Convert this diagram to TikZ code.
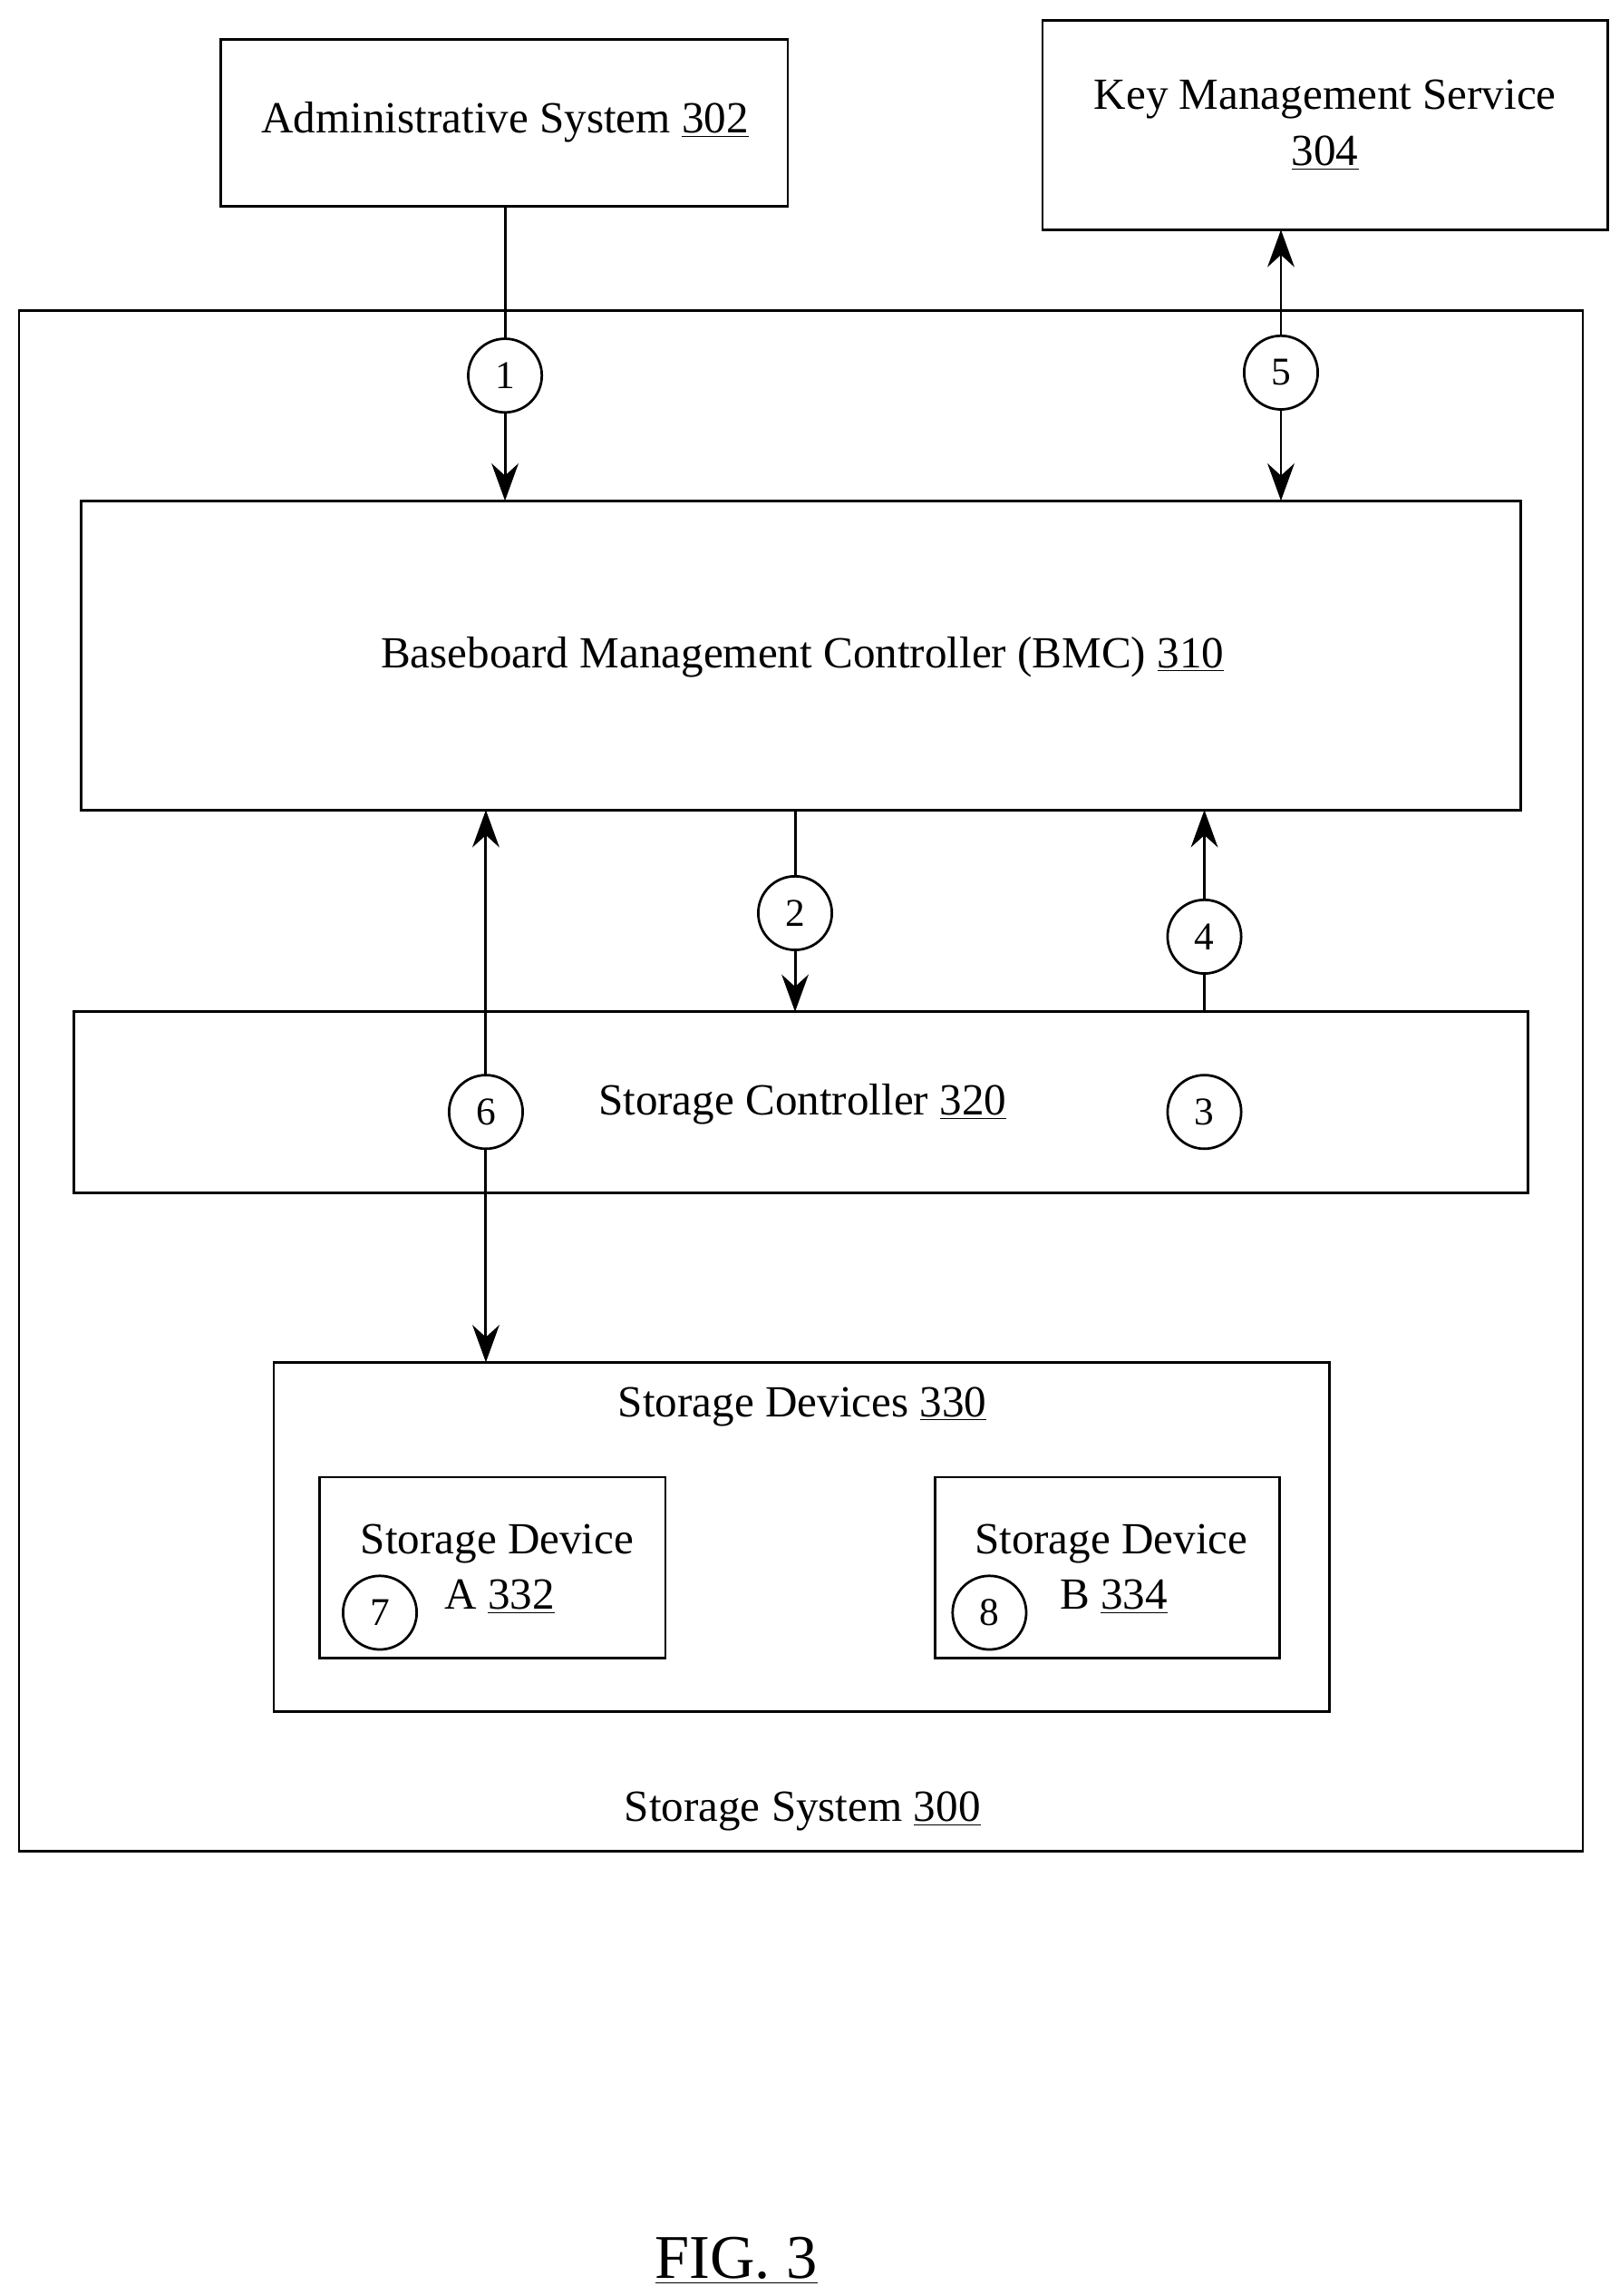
\documentclass[tikz,border=0pt]{standalone}
\usepackage{fontspec}
\setmainfont{Liberation Serif}
\usetikzlibrary{arrows.meta}
\begin{document}
\begin{tikzpicture}[x=0.025cm,y=-0.025cm,
  box/.style={draw,line width=1.2pt,inner sep=0pt},
  num/.style={draw,circle,line width=1.2pt,minimum size=1.25cm,inner sep=0pt,font=\fontsize{19}{22}\selectfont,fill=white},
  txt/.style={font=\fontsize{21.5}{27}\selectfont,align=center},
  ar/.style={line width=1.3pt,-{Stealth[length=18pt,width=13pt]}},
  dar/.style={line width=1.3pt,{Stealth[length=18pt,width=13pt]}-{Stealth[length=18pt,width=13pt]}}]
\useasboundingbox (0,0) rectangle (1100,1559);
\draw[box] (150,27) rectangle (535,140);
\node[txt] (adm) at (343,83) {Administrative System \underline{302}};
\coordinate (admB) at (343,140);
\draw[box] (708,14) rectangle (1092,156);
\node[txt] (kms) at (900,85) {Key Management Service\\\underline{304}};
\coordinate (kmsB) at (870,156);
\draw[box] (13,211) rectangle (1075,1257);
\node[txt] (ss) at (545,1230) {Storage System \underline{300}};
\draw[box] (55,340) rectangle (1033,550);
\node[txt] (bmc) at (545,446) {Baseboard Management Controller (BMC) \underline{310}};
\draw[box] (50,687) rectangle (1038,810);
\node[txt] (sc) at (545,750) {Storage Controller \underline{320}};
\draw[box] (186,925) rectangle (903,1162);
\node[txt] (sd) at (545,955) {Storage Devices \underline{330}};
\draw[box] (217,1003) rectangle (452,1126);
\node[txt,anchor=north west] (sda) at (240,1030) {Storage Device};
\node[txt,anchor=west] (sdaa) at (297,1084) {A \underline{332}};
\draw[box] (635,1003) rectangle (869,1126);
\node[txt,anchor=north west] (sdb) at (657,1030) {Storage Device};
\node[txt,anchor=west] (sdbb) at (715,1084) {B \underline{334}};
\coordinate (b1) at (343,340); \coordinate (b5) at (870,340);
\coordinate (b6) at (330,550); \coordinate (d6) at (330,925);
\coordinate (b2) at (540,550); \coordinate (c2) at (540,687);
\coordinate (b4) at (818,550); \coordinate (c4) at (818,687);
\draw[ar] (admB) -- (b1);
\draw[dar] (kmsB) -- (b5);
\draw[dar] (b6) -- (d6);
\draw[ar] (b2) -- (c2);
\draw[ar] (c4) -- (b4);
\node[num] (n1) at (343,255) {1};
\node[num] (n5) at (870,253) {5};
\node[num] (n2) at (540,620) {2};
\node[num] (n4) at (818,636) {4};
\node[num] (n6) at (330,755) {6};
\node[num] (n3) at (818,755) {3};
\node[num] (n7) at (258,1095) {7};
\node[num] (n8) at (672,1095) {8};
\node[font=\fontsize{30}{34}\selectfont] (fig) at (500,1535) {\underline{FIG. 3}};
\end{tikzpicture}
\end{document}
